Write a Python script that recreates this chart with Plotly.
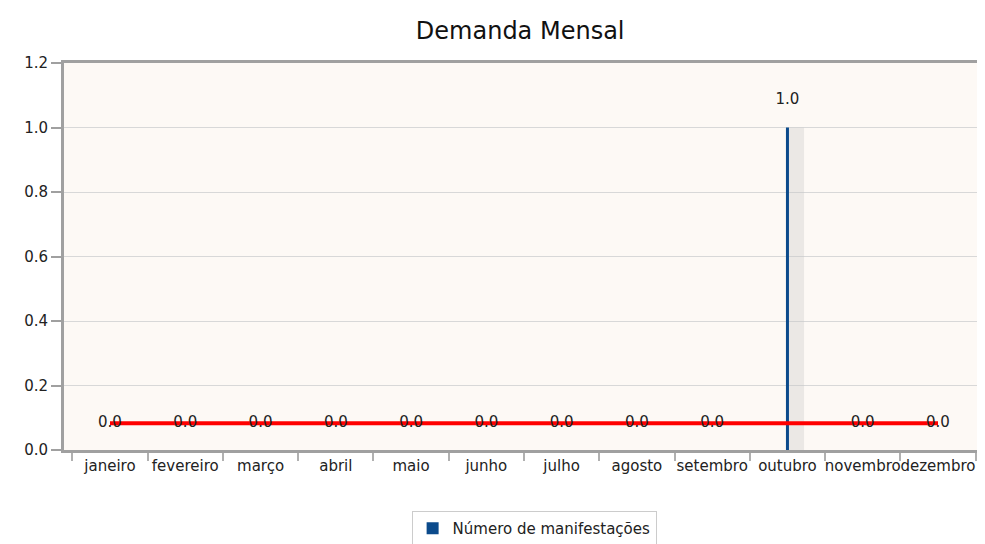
import plotly.graph_objects as go

# dados
meses = ["janeiro", "fevereiro", "março", "abril", "maio", "junho",
         "julho", "agosto", "setembro", "outubro", "novembro", "dezembro"]
manifestacoes = [0, 0, 0, 0, 0, 0, 0, 0, 0, 1, 0, 0]

media = sum(manifestacoes) / len(manifestacoes)
linha_media = [media] * len(meses)

FONTE = "DejaVu Sans"
AZUL = "#0b4a8b"

fig = go.Figure()

# sombra da barra
fig.add_trace(go.Bar(
    x=meses, y=manifestacoes,
    width=0.2, offset=0.02,
    marker=dict(color="rgba(200,200,200,0.35)", line_width=0),
    showlegend=False, hoverinfo="skip",
))

fig.add_trace(go.Bar(
    x=meses, y=manifestacoes,
    name="Número de manifestações",
    width=0.04, offset=-0.02,
    marker=dict(color=AZUL, line_width=0),
    # linha vazia extra para afastar o rótulo do topo da barra
    text=[f"{v:.1f}<br> " if v > 0 else "" for v in manifestacoes],
    textposition="outside",
    constraintext="none",
    textfont=dict(size=15, color="#222"),
    cliponaxis=False,
))

# linha da média com os rótulos dos meses zerados
fig.add_trace(go.Scatter(
    x=meses, y=linha_media,
    mode="lines+text",
    line=dict(color="#ff0000", width=4),
    text=[f"{v:.1f}" if v == 0 else "" for v in manifestacoes],
    textposition="middle center",
    textfont=dict(size=15, color="#222"),
    showlegend=False, hoverinfo="skip",
))

fig.update_layout(
    title=dict(text="Demanda Mensal", x=0.52, xanchor="center",
               y=0.958, yref="container", yanchor="middle",
               font=dict(size=24, color="#111")),
    width=985, height=544,
    margin=dict(l=56, r=9, t=55, b=102),
    paper_bgcolor="white",
    plot_bgcolor="#fdf9f5",
    font=dict(family=FONTE, size=15, color="#222"),
    barmode="overlay",
    showlegend=True,
    legend=dict(orientation="h", x=0.511, xanchor="center",
                y=0.043, yref="container", yanchor="middle",
                bordercolor="#cccccc", borderwidth=1, font=dict(size=15),
                itemwidth=30),
)

fig.update_xaxes(
    tickson="boundaries", ticks="outside", ticklen=8, tickwidth=2, tickcolor="#b0b0b0",
    showline=True, linecolor="#a0a0a0", linewidth=3, mirror=True,
    showgrid=False, tickfont=dict(size=15), tickangle=0, automargin=False,
)
fig.update_yaxes(
    range=[0, 1.2], dtick=0.2, tickformat=".1f",
    ticks="outside", ticklen=10, tickwidth=2, tickcolor="#a0a0a0",
    showline=True, linecolor="#a0a0a0", linewidth=3, mirror=True,
    gridcolor="#d8d8d8", gridwidth=1, zeroline=False,
    tickfont=dict(size=15), automargin=False,
)

fig.write_html("out.html")
